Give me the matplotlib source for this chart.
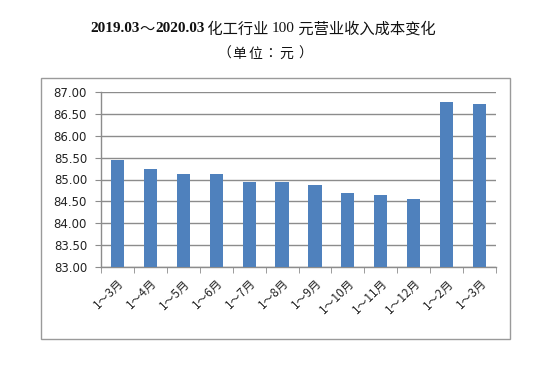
import matplotlib
matplotlib.use("Agg")
import matplotlib.pyplot as plt
from matplotlib.patches import Rectangle
import numpy as np

categories = ["1～3月", "1～4月", "1～5月", "1～6月", "1～7月", "1～8月",
              "1～9月", "1～10月", "1～11月", "1～12月", "1～2月", "1～3月"]
values = [85.45, 85.25, 85.13, 85.13, 84.95, 84.95,
          84.88, 84.69, 84.65, 84.56, 86.77, 86.73]
yticks = [83.0, 83.5, 84.0, 84.5, 85.0, 85.5, 86.0, 86.5, 87.0]

W, H = 549, 375
fig = plt.figure(figsize=(W / 100, H / 100), dpi=100)
fig.patch.set_facecolor("white")

# outer chart border
fig.patches.append(Rectangle((41 / W, 1 - 339 / H), (510 - 41) / W, (339 - 78) / H,
                             transform=fig.transFigure, fill=False,
                             edgecolor="#9a9a9a", linewidth=1.0))

ax = fig.add_axes([101 / W, 1 - 267 / H, (496 - 101) / W, (267 - 92) / H])
x = np.arange(len(values))
ax.bar(x, values, width=0.4, color="#4F81BD", zorder=3)
ax.set_ylim(83, 87)
ax.set_xlim(-0.5, len(values) - 0.5)
ax.set_yticks(yticks)
ax.set_yticklabels([f"{v:.2f}" for v in yticks], fontsize=8.5, family="DejaVu Sans",
                   color="#222222")
ax.set_xticks(x)
ax.set_xticklabels(categories, rotation=45, ha="right", rotation_mode="anchor",
                   fontsize=8.5, family=["Noto Sans CJK SC", "DejaVu Sans"],
                   color="#222222")
ax.tick_params(axis="x", which="major", length=0, pad=7)
ax.set_xticks(np.arange(-0.5, len(values), 1.0), minor=True)
ax.tick_params(axis="x", which="minor", length=4, color="#8c8c8c", direction="out")
ax.tick_params(axis="y", length=4, color="#8c8c8c", direction="out", pad=6)
ax.grid(axis="y", color="#8c8c8c", linewidth=1.0, zorder=0)
for s in ["top", "right"]:
    ax.spines[s].set_visible(False)
for s in ["left", "bottom"]:
    ax.spines[s].set_color("#8c8c8c")
    ax.spines[s].set_linewidth(1.0)

# Title, mixed fonts
parts = [
    ("2019.03", dict(family="Liberation Serif", weight="bold")),
    ("～", dict(family="Noto Sans CJK SC", weight="normal")),
    ("2020.03", dict(family="Liberation Serif", weight="bold")),
    (" 化工行业 ", dict(family="Noto Sans CJK SC", weight="normal")),
    ("100", dict(family="Liberation Serif", weight="normal")),
    (" 元营业收入成本变化", dict(family="Noto Sans CJK SC", weight="normal")),
]
texts = []
xpos = 0
for s, kw in parts:
    t = fig.text(xpos, 1 - 29 / H, s, fontsize=11, va="center", ha="left",
                 color="#111111", **kw)
    fig.canvas.draw()
    bb = t.get_window_extent(renderer=fig.canvas.get_renderer())
    texts.append((t, bb.width))
    xpos += bb.width / W
total = xpos
cur = 263 / W - total / 2
for t, w in texts:
    t.set_x(cur)
    cur += w / W

# subtitle with wide character spacing
sub = [("（", 231, "right"), ("单", 239, "center"), ("位", 255.5, "center"),
       ("：", 270, "center"), ("元", 286, "center"), ("）", 298, "left")]
for ch, px, ha in sub:
    fig.text(px / W, 1 - 54 / H, ch, fontsize=10, ha=ha, va="center",
             family="Noto Sans CJK TC", color="#111111")

fig.savefig("out.png", dpi=100, facecolor="white")
